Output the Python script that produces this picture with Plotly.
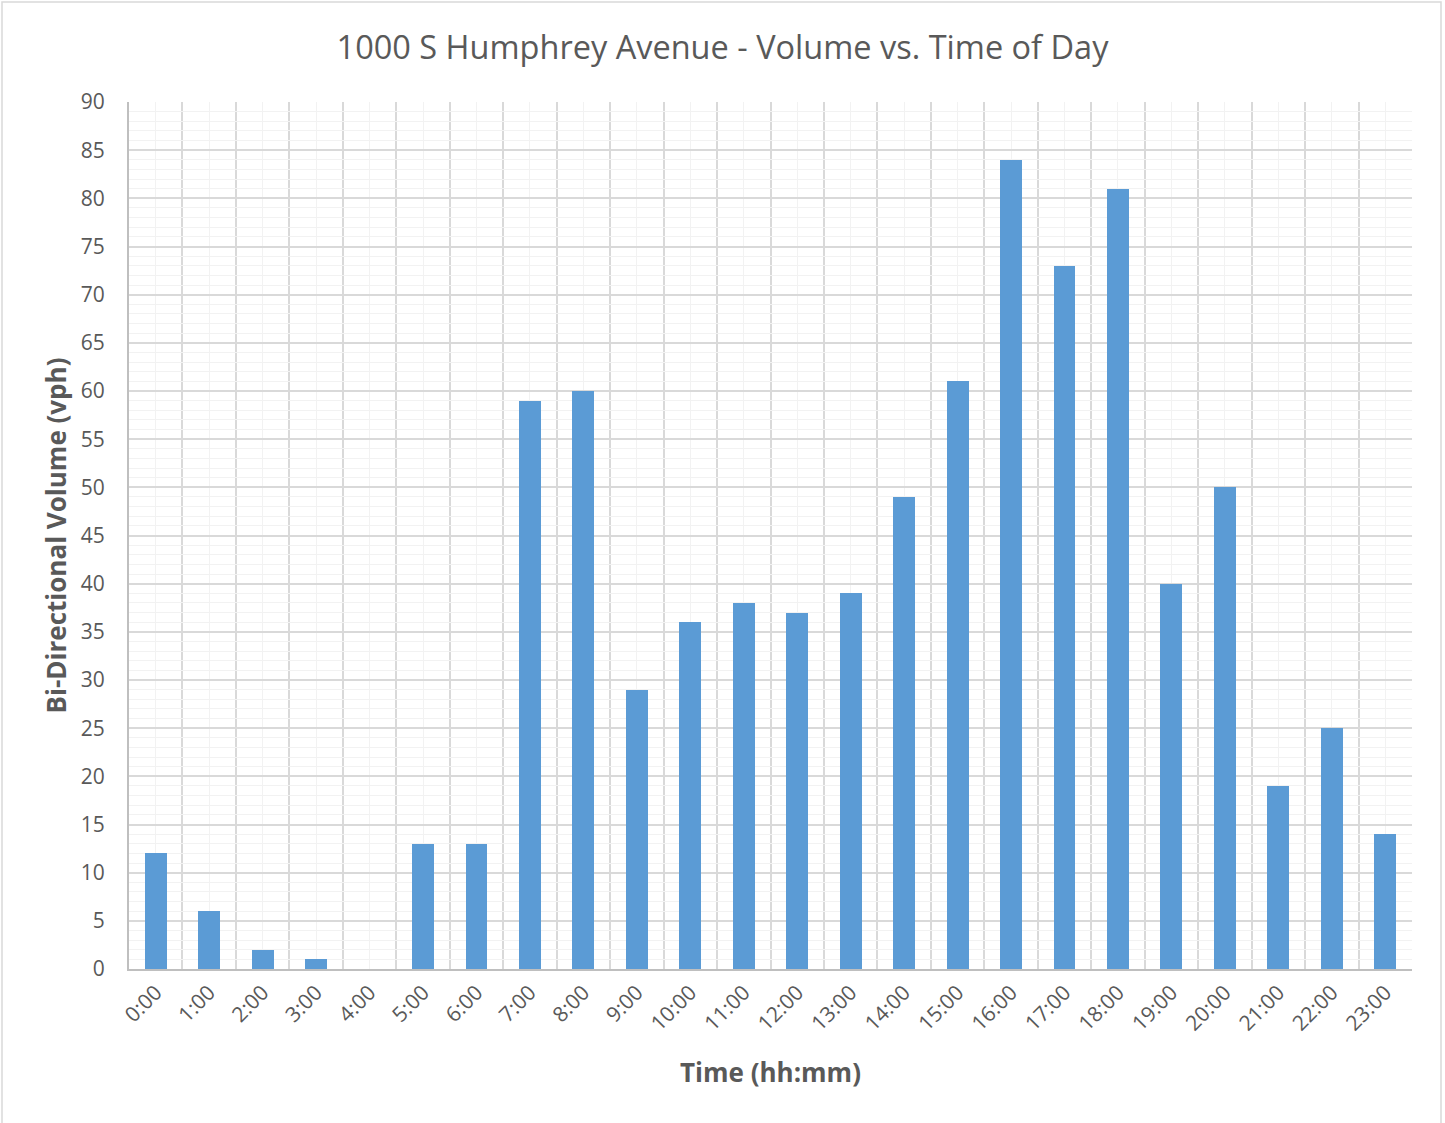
import plotly.graph_objects as go

hours = [f"{h}:00" for h in range(24)]
volume = [12, 6, 2, 1, 0, 13, 13, 59, 60, 29, 36, 38, 37, 39, 49, 61, 84, 73, 81, 40, 50, 19, 25, 14]
y_ticks = list(range(0, 91, 5))

W, H = 1445, 1123
ML, MR, MT, MB = 129, 33, 102, 154
TXT = "#595959"
FONT = "Open Sans"

x_pos = list(range(len(hours)))

fig = go.Figure()
fig.add_trace(go.Bar(
    x=x_pos, y=volume, width=0.41,
    marker=dict(color="#5b9bd5", line=dict(width=0)),
    showlegend=False,
))

fig.update_layout(
    width=W, height=H,
    margin=dict(l=ML, r=MR, t=MT, b=MB),
    paper_bgcolor="white", plot_bgcolor="white",
    title=dict(text="1000 S Humphrey Avenue - Volume vs. Time of Day",
               x=0.5, xanchor="center", y=1 - 48 / H, yanchor="middle",
               font=dict(family=FONT, size=32.5, color=TXT)),
    font=dict(family=FONT, color=TXT),
    bargap=0,
)

fig.update_xaxes(
    range=[-0.5, len(hours) - 0.5],
    tickmode="array", tickvals=x_pos, ticktext=hours,
    tickangle=-45, tickfont=dict(size=21, color=TXT),
    ticklabelstandoff=1,
    showgrid=True, gridcolor="#f2f2f2", gridwidth=1,
    minor=dict(tickmode="array", tickvals=[i - 0.5 for i in range(len(hours) + 1)],
               showgrid=True, gridcolor="#d9d9d9", gridwidth=1.5, ticks=""),
    showline=True, linecolor="#bfbfbf", linewidth=2,
    ticks="", zeroline=False,
    title=dict(text="<b>Time (hh:mm)</b>", font=dict(family=FONT, size=26, color=TXT), standoff=29),
)

fig.update_yaxes(
    range=[0, 90],
    tickmode="array", tickvals=y_ticks,
    tickfont=dict(size=21, color=TXT),
    showgrid=True, gridcolor="#d9d9d9", gridwidth=1.5,
    minor=dict(dtick=1, showgrid=True, gridcolor="#f2f2f2", gridwidth=1, ticks=""),
    showline=True, linecolor="#bfbfbf", linewidth=2,
    ticks="", zeroline=False, ticklabelstandoff=18,
    title=dict(text="<b>Bi-Directional Volume (vph)</b>", font=dict(family=FONT, size=26, color=TXT), standoff=7),
)

# outer chart border
pw, ph = W - ML - MR, H - MT - MB
fig.add_shape(type="rect", xref="paper", yref="paper",
              x0=(2 - ML) / pw, x1=(1441 - ML) / pw,
              y0=-(MB + 10) / ph, y1=(ph + MT - 2) / ph,
              line=dict(color="#d9d9d9", width=1.5), layer="below")

fig.write_html("out.html", config={"displayModeBar": False},
               post_script="document.body.style.margin='0';")
